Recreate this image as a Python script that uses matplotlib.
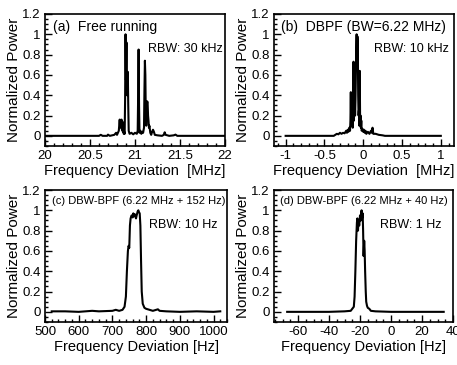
import matplotlib
matplotlib.use("Agg")
import matplotlib.pyplot as plt
from matplotlib.ticker import MultipleLocator, FixedLocator, FixedFormatter

plt.rcParams['font.family'] = ['Liberation Sans', 'DejaVu Sans']
plt.rcParams['axes.unicode_minus'] = False

# (a) free running, MHz
a_freq = [20.00, 20.60, 20.62, 20.64, 20.69, 20.70, 20.72, 20.77, 20.79, 20.80,
          20.82, 20.83, 20.835, 20.84, 20.845, 20.85, 20.855, 20.86, 20.865, 20.87,
          20.875, 20.88, 20.885, 20.89, 20.895, 20.90, 20.905, 20.91, 20.915, 20.92,
          20.925, 20.93, 20.94, 20.96, 20.98, 21.00, 21.02, 21.03, 21.035, 21.04,
          21.045, 21.05, 21.06, 21.07, 21.08, 21.09, 21.10, 21.105, 21.11, 21.115,
          21.12, 21.125, 21.13, 21.135, 21.14, 21.145, 21.15, 21.155, 21.16, 21.17,
          21.18, 21.19, 21.20, 21.21, 21.22, 21.25, 21.30, 21.32, 21.33, 21.34,
          21.38, 21.43, 21.45, 21.47, 22.00]
a_power = [0, 0, 0.01, 0, 0, 0.012, 0, 0.01, 0.03, 0.01,
           0.05, 0.16, 0.08, 0.15, 0.10, 0.16, 0.06, 0.14, 0.04, 0.12,
           0.02, 0.04, 0.02, 0.35, 1.00, 0.55, 0.92, 0.40, 0.45, 0.63,
           0.30, 0.05, 0.02, 0.03, 0.015, 0.03, 0.02, 0.05, 0.40, 0.85,
           0.30, 0.03, 0.05, 0.02, 0.04, 0.03, 0.08, 0.45, 0.74, 0.60,
           0.20, 0.10, 0.28, 0.34, 0.33, 0.20, 0.15, 0.08, 0.10, 0.03,
           0.01, 0.04, 0.06, 0.04, 0.01, 0.005, 0.0, 0.01, 0.035, 0.01,
           0.0, 0.005, 0.012, 0.0, 0]

# (b) DBPF, MHz
b_freq = [-1.00, -0.38, -0.36, -0.34, -0.32, -0.30, -0.28, -0.26, -0.24, -0.22,
          -0.21, -0.20, -0.19, -0.18, -0.17, -0.165, -0.16, -0.155, -0.15, -0.14,
          -0.135, -0.13, -0.125, -0.12, -0.115, -0.11, -0.105, -0.10, -0.095, -0.09,
          -0.085, -0.08, -0.075, -0.07, -0.065, -0.06, -0.055, -0.05, -0.045, -0.04,
          -0.035, -0.03, -0.025, -0.02, -0.01, 0.00, 0.01, 0.02, 0.03, 0.04,
          0.06, 0.08, 0.10, 0.11, 0.12, 0.13, 0.16, 0.20, 0.25, 0.28, 1.00]
b_power = [0, 0, 0.01, 0.02, 0.015, 0.03, 0.02, 0.03, 0.025, 0.05,
           0.03, 0.06, 0.04, 0.08, 0.05, 0.15, 0.43, 0.10, 0.12, 0.20,
           0.08, 0.25, 0.73, 0.15, 0.30, 0.45, 0.20, 0.35, 0.60, 0.85,
           1.00, 0.70, 0.98, 0.90, 0.40, 0.20, 0.25, 0.10, 0.64, 0.15,
           0.20, 0.08, 0.15, 0.05, 0.07, 0.04, 0.06, 0.03, 0.05, 0.02,
           0.04, 0.02, 0.05, 0.03, 0.08, 0.02, 0.02, 0.01, 0.005, 0, 0]

# (c) DBW-BPF +152 Hz
c_freq = [520, 560, 600, 640, 660, 700, 710, 720, 730, 736,
          740, 743, 746, 748, 750, 752, 754, 757, 760, 762,
          764, 767, 770, 772, 775, 777, 779, 781, 783, 785,
          787, 790, 795, 800, 810, 820, 830, 835, 840, 860,
          900, 950, 1000, 1020]
c_power = [0.005, 0.005, 0.0, 0.01, 0.005, 0.01, 0.02, 0.01, 0.02, 0.05,
           0.15, 0.40, 0.60, 0.65, 0.63, 0.85, 0.92, 0.95, 0.93, 0.97,
           0.94, 0.96, 0.92, 0.95, 0.99, 1.00, 0.98, 0.97, 0.85, 0.50,
           0.20, 0.08, 0.04, 0.03, 0.02, 0.01, 0.02, 0.025, 0.01, 0.005,
           0.0, 0.005, 0.0, 0.005]

# (d) DBW-BPF +40 Hz
d_freq = [-67, -40, -30, -26, -25, -24, -23.5, -23, -22.5, -22,
          -21.7, -21.3, -21, -20.5, -20, -19.5, -19, -18.7, -18.3, -18,
          -17.7, -17.3, -17, -16.7, -16.3, -16, -15.5, -15, -14, -13,
          -10, 0, 34]
d_power = [0, 0, 0.005, 0.01, 0.03, 0.05, 0.15, 0.40, 0.70, 0.88,
           0.92, 0.80, 0.90, 0.85, 0.95, 0.90, 1.00, 0.92, 0.97, 0.80,
           0.55, 0.70, 0.60, 0.40, 0.20, 0.10, 0.06, 0.04, 0.03, 0.01,
           0.005, 0, 0]

yticks = [0, 0.2, 0.4, 0.6, 0.8, 1.0, 1.2]
ylabels = ['0', '0.2', '0.4', '0.6', '0.8', '1', '1.2']

fig = plt.figure(figsize=(4.57, 3.65), dpi=100)
W, H = 457.0, 365.0


def make_ax(l, r, t, b):
    ax = fig.add_axes([l / W, 1 - b / H, (r - l) / W, (b - t) / H])
    for s in ax.spines.values():
        s.set_linewidth(1.2)
    ax.tick_params(which='both', direction='in', top=False, right=False,
                   labelsize=9.5, width=1.0, pad=3)
    ax.tick_params(which='major', length=5)
    ax.tick_params(which='minor', length=2.5)
    ax.set_ylim(-0.1, 1.2)
    ax.yaxis.set_major_locator(FixedLocator(yticks))
    ax.yaxis.set_major_formatter(FixedFormatter(ylabels))
    ax.yaxis.set_minor_locator(MultipleLocator(0.05))
    ax.set_ylabel('Normalized Power', fontsize=11, labelpad=1)
    return ax


ax1 = make_ax(45, 225, 14, 146)
ax1.plot(a_freq, a_power, color='k', lw=1.5)
ax1.set_xlim(20, 22)
ax1.xaxis.set_major_locator(FixedLocator([20, 20.5, 21, 21.5, 22]))
ax1.xaxis.set_major_formatter(FixedFormatter(['20', '20.5', '21', '21.5', '22']))
ax1.xaxis.set_minor_locator(MultipleLocator(0.1))
ax1.set_xlabel('Frequency Deviation  [MHz]', fontsize=10.5, labelpad=1)
ax1.text(0.045, 0.955, '(a)  Free running', transform=ax1.transAxes, fontsize=10, va='top')
ax1.text(0.57, 0.78, 'RBW: 30 kHz', transform=ax1.transAxes, fontsize=9, va='top')

ax2 = make_ax(274, 454, 14, 146)
ax2.plot(b_freq, b_power, color='k', lw=1.5)
ax2.set_xlim(-1.15, 1.17)
ax2.xaxis.set_major_locator(FixedLocator([-1, -0.5, 0, 0.5, 1]))
ax2.xaxis.set_major_formatter(FixedFormatter(['-1', '-0.5', '0', '0.5', '1']))
ax2.xaxis.set_minor_locator(MultipleLocator(0.1))
ax2.set_xlabel('Frequency Deviation  [MHz]', fontsize=10.5, labelpad=1)
ax2.text(0.04, 0.955, '(b)  DBPF (BW=6.22 MHz)', transform=ax2.transAxes, fontsize=10, va='top')
ax2.text(0.555, 0.78, 'RBW: 10 kHz', transform=ax2.transAxes, fontsize=9, va='top')

ax3 = make_ax(45, 227, 190, 322)
ax3.plot(c_freq, c_power, color='k', lw=1.5)
ax3.set_xlim(500, 1040)
ax3.xaxis.set_major_locator(MultipleLocator(100))
ax3.xaxis.set_minor_locator(MultipleLocator(20))
ax3.set_xlabel('Frequency Deviation [Hz]', fontsize=10.5, labelpad=1)
ax3.text(0.04, 0.955, '(c) DBW-BPF (6.22 MHz + 152 Hz)', transform=ax3.transAxes, fontsize=8, va='top')
ax3.text(0.57, 0.78, 'RBW: 10 Hz', transform=ax3.transAxes, fontsize=9, va='top')

ax4 = make_ax(274, 453, 190, 322)
ax4.plot(d_freq, d_power, color='k', lw=1.5)
ax4.set_xlim(-75.5, 40)
ax4.xaxis.set_major_locator(MultipleLocator(20))
ax4.xaxis.set_minor_locator(MultipleLocator(5))
ax4.set_xlabel('Frequency Deviation [Hz]', fontsize=10.5, labelpad=1)
ax4.text(0.035, 0.955, '(d) DBW-BPF (6.22 MHz + 40 Hz)', transform=ax4.transAxes, fontsize=8, va='top')
ax4.text(0.59, 0.78, 'RBW: 1 Hz', transform=ax4.transAxes, fontsize=9, va='top')

fig.savefig('out.png', dpi=100)
